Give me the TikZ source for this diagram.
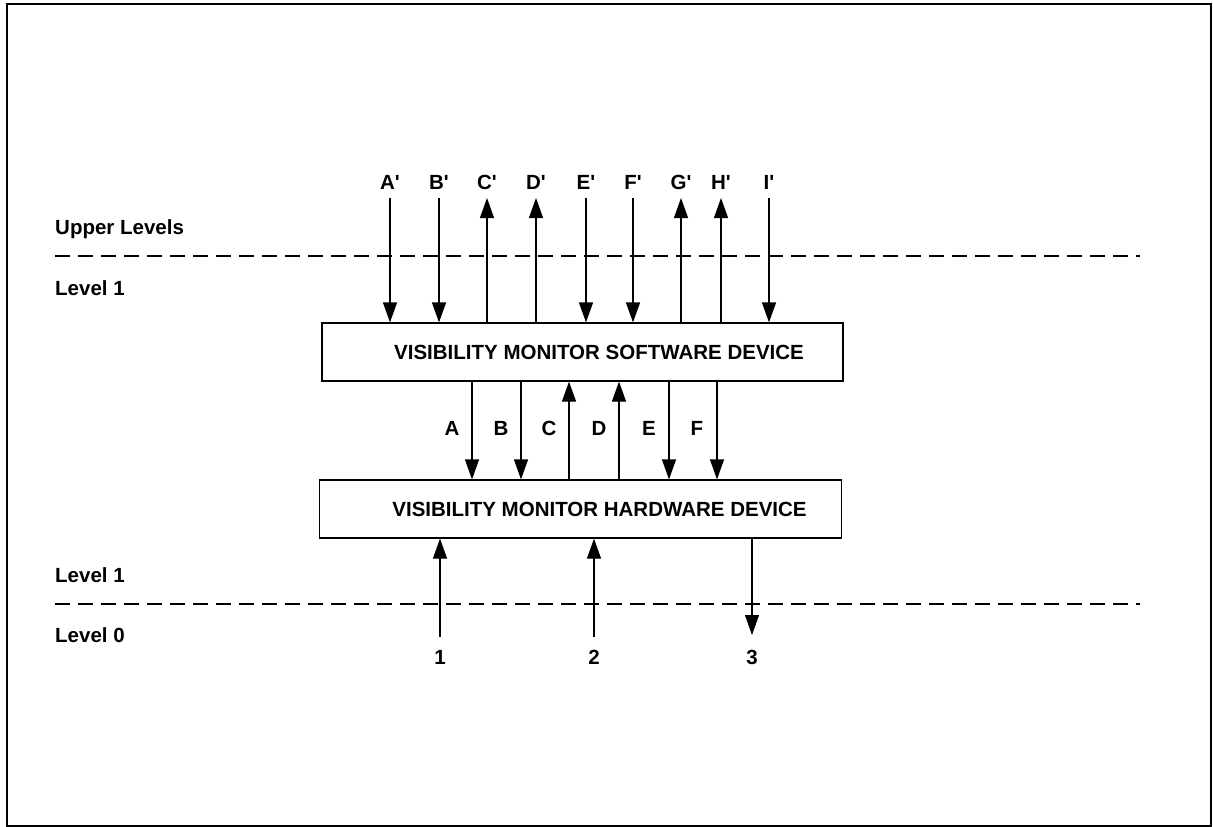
\documentclass[tikz,border=0pt]{standalone}
\usepackage{fontspec}
\setmainfont{Liberation Sans}
\usetikzlibrary{arrows.meta}
\begin{document}
\begin{tikzpicture}[x=1pt,y=-1pt,
  lbl/.style={font=\fontsize{20.5}{25}\selectfont\bfseries, inner sep=0pt},
  devbox/.style={draw, line width=1.2pt, font=\fontsize{20.5}{25}\selectfont\bfseries, minimum height=58pt, inner sep=0pt},
  sig/.style={line width=1.2pt, -{Triangle[length=20pt,width=14pt]}},
  levelline/.style={line width=1.2pt, dash pattern=on 15pt off 8pt}]
\useasboundingbox (0,0) rectangle (1213,827);
\draw[line width=1.5pt] (7,4) rectangle (1211,826);

% level separators
\coordinate (d1a) at (55,256);
\coordinate (d1b) at (1140,256);
\coordinate (d2a) at (55,604);
\coordinate (d2b) at (1140,604);
\draw[levelline] (d1a) -- (d1b);
\draw[levelline] (d2a) -- (d2b);

% level labels
\node[lbl, anchor=west] (up) at (55,229) {Upper Levels};
\node[lbl, anchor=west] (lv1a) at (55,288) {Level 1};
\node[lbl, anchor=west] (lv1b) at (55,575) {Level 1};
\node[lbl, anchor=west] (lv0) at (55,635) {Level 0};

% devices
\node[devbox, minimum width=521pt] (sw) at (582.5,352) {\hspace*{33pt}VISIBILITY MONITOR SOFTWARE DEVICE};
\node[devbox, minimum width=522pt] (hw) at (580.5,509) {\hspace*{38pt}VISIBILITY MONITOR HARDWARE DEVICE};

% upper-level signals
\foreach \n/\x/\t/\d in {Ap/390/A/0, Bp/439/B/0, Cp/487/C/1, Dp/536/D/1, Ep/586/E/0, Fp/633/F/0, Gp/681/G/1, Hp/721/H/1, Ip/769/I/0}{
  \node[lbl] (l\n) at (\x,182) {\t\textquotesingle};
  \coordinate (t\n) at (\x,198);
  \ifnum\d=0
    \draw[sig] (t\n) -- (t\n |- sw.north);
  \else
    \draw[sig] (t\n |- sw.north) -- (t\n);
  \fi
}

% software <-> hardware signals
\foreach \n/\x/\d in {A/472/0, B/521/0, C/569/1, D/619/1, E/669/0, F/717/0}{
  \coordinate (m\n) at (\x,430);
  \node[lbl] (l\n) at (\x-20,428) {\n};
  \ifnum\d=0
    \draw[sig] (sw.south -| m\n) -- (hw.north -| m\n);
  \else
    \draw[sig] (hw.north -| m\n) -- (sw.south -| m\n);
  \fi
}

% level 0 signals
\coordinate (b1) at (440,637);
\coordinate (b2) at (594,637);
\coordinate (b3) at (752,635);
\draw[sig] (b1) -- (b1 |- hw.south);
\draw[sig] (b2) -- (b2 |- hw.south);
\draw[sig] (b3 |- hw.south) -- (b3);
\node[lbl] (l1) at (440,657) {1};
\node[lbl] (l2) at (594,657) {2};
\node[lbl] (l3) at (752,657) {3};
\end{tikzpicture}
\end{document}
